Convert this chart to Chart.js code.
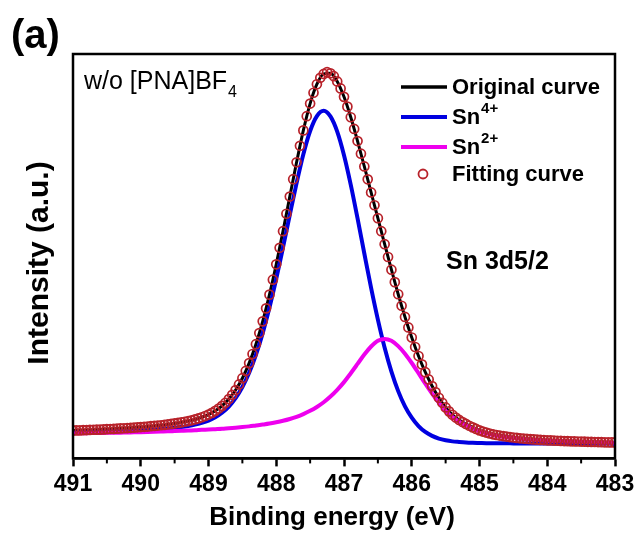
<!DOCTYPE html>
<html>
<head>
<meta charset="utf-8">
<script src="https://cdn.jsdelivr.net/npm/chart.js@4.4.1/dist/chart.umd.min.js"></script>
<style>
html,body{margin:0;padding:0;background:#fff;}
canvas{display:block;}
</style>
</head>
<body>
<canvas id="c" width="641" height="536"></canvas>
<script>
// Binding energy grid for the fitting-curve circles (eV)
const energyFine = [
491.00,490.95,490.90,490.85,490.80,490.75,490.70,490.65,490.60,490.55,
490.50,490.45,490.40,490.35,490.30,490.25,490.20,490.15,490.10,490.05,
490.00,489.95,489.90,489.85,489.80,489.75,489.70,489.65,489.60,489.55,
489.50,489.45,489.40,489.35,489.30,489.25,489.20,489.15,489.10,489.05,
489.00,488.95,488.90,488.85,488.80,488.75,488.70,488.65,488.60,488.55,
488.50,488.45,488.40,488.35,488.30,488.25,488.20,488.15,488.10,488.05,
488.00,487.95,487.90,487.85,487.80,487.75,487.70,487.65,487.60,487.55,
487.50,487.45,487.40,487.35,487.30,487.25,487.20,487.15,487.10,487.05,
487.00,486.95,486.90,486.85,486.80,486.75,486.70,486.65,486.60,486.55,
486.50,486.45,486.40,486.35,486.30,486.25,486.20,486.15,486.10,486.05,
486.00,485.95,485.90,485.85,485.80,485.75,485.70,485.65,485.60,485.55,
485.50,485.45,485.40,485.35,485.30,485.25,485.20,485.15,485.10,485.05,
485.00,484.95,484.90,484.85,484.80,484.75,484.70,484.65,484.60,484.55,
484.50,484.45,484.40,484.35,484.30,484.25,484.20,484.15,484.10,484.05,
484.00,483.95,483.90,483.85,483.80,483.75,483.70,483.65,483.60,483.55,
483.50,483.45,483.40,483.35,483.30,483.25,483.20,483.15,483.10,483.05,
483.00];

// Fitting curve intensity (a.u.)
const fitCurve = [
27.8,27.9,28.0,28.15,28.3,28.45,28.6,28.7,28.8,29.0,
29.2,29.35,29.5,29.7,29.9,30.1,30.3,30.55,30.8,31.05,
31.3,31.55,31.8,32.15,32.5,32.8,33.1,33.5,33.9,34.4,
34.9,35.4,36.0,36.6,37.3,38.05,38.9,39.9,41.1,42.35,
43.8,45.5,47.5,49.8,52.5,55.6,59.3,63.5,68.3,73.9,
80.1,87.4,95.2,104.3,114.1,125.2,136.9,149.9,163.6,178.5,
193.9,210.4,227.0,244.4,261.6,278.9,295.8,312.3,327.7,341.9,
354.5,365.3,373.8,380.2,384.1,385.8,384.7,381.8,376.6,369.6,
361.2,351.4,340.8,329.1,317.0,304.4,291.7,278.8,265.7,252.9,
240.0,227.0,214.0,201.2,188.5,176.1,164.0,152.5,141.3,130.8,
120.8,111.3,102.3,93.9,86.1,78.9,72.3,66.2,60.6,55.6,
50.9,47.0,43.6,40.8,38.4,36.3,34.4,32.6,31.0,29.4,
28.0,26.8,25.8,24.9,24.1,23.4,22.8,22.3,21.8,21.35,
20.9,20.5,20.1,19.8,19.5,19.25,19.0,18.75,18.5,18.3,
18.1,17.95,17.8,17.65,17.5,17.35,17.2,17.1,17.0,16.9,
16.8,16.7,16.6,16.5,16.4,16.3,16.2,16.1,16.0,15.95,
15.9];

// Binding energy grid for the line curves (eV)
const energy = [
491.0,490.9,490.8,490.7,490.6,490.5,490.4,490.3,490.2,490.1,
490.0,489.9,489.8,489.7,489.6,489.5,489.4,489.3,489.2,489.1,
489.0,488.9,488.8,488.7,488.6,488.5,488.4,488.3,488.2,488.1,
488.0,487.9,487.8,487.7,487.6,487.5,487.4,487.3,487.2,487.1,
487.0,486.9,486.8,486.7,486.6,486.5,486.4,486.3,486.2,486.1,
486.0,485.9,485.8,485.7,485.6,485.5,485.4,485.3,485.2,485.1,
485.0,484.9,484.8,484.7,484.6,484.5,484.4,484.3,484.2,484.1,
484.0,483.9,483.8,483.7,483.6,483.5,483.4,483.3,483.2,483.1,
483.0];

// Original (measured) curve
const originalCurve = [
27.8,28.0,28.3,28.6,28.8,29.2,29.5,29.9,30.3,30.8,
31.3,31.8,32.5,33.1,33.9,34.9,36.0,37.3,38.9,41.1,
43.8,47.5,52.5,59.3,68.3,80.1,95.2,114.1,136.9,163.6,
193.9,227.0,261.6,295.8,327.7,354.5,373.8,384.1,384.7,376.6,
361.2,340.8,317.0,291.7,265.7,240.0,214.0,188.5,164.0,141.3,
120.8,102.3,86.1,72.3,60.6,50.9,43.6,38.4,34.4,31.0,
28.0,25.8,24.1,22.8,21.8,20.9,20.1,19.5,19.0,18.5,
18.1,17.8,17.5,17.2,17.0,16.8,16.6,16.4,16.2,16.0,
15.9];

// Sn4+ component
const sn4Curve = [
25.8,25.9,26.1,26.3,26.4,26.7,26.9,27.2,27.4,27.8,
28.1,28.4,28.9,29.3,29.9,30.6,31.4,32.4,33.7,35.5,
37.8,41.1,45.6,51.8,60.2,71.3,85.5,103.4,125.2,150.7,
179.4,210.8,243.3,275.0,303.9,327.1,342.0,347.2,341.6,326.4,
302.8,273.2,239.7,204.7,170.3,138.6,110.5,86.7,67.2,52.0,
40.7,32.3,26.4,22.5,19.8,18.1,17.0,16.4,15.9,15.6,
15.4,15.2,15.2,15.1,15.1,15.0,15.0,15.0,14.9,14.9,
14.9,14.9,14.9,14.8,14.8,14.8,14.8,14.8,14.8,14.8,
14.7];

// Sn2+ component
const sn2Curve = [
25.0,25.1,25.2,25.3,25.4,25.5,25.6,25.7,25.9,26.0,
26.2,26.4,26.6,26.8,27.0,27.3,27.6,27.9,28.1,28.5,
28.8,29.2,29.6,30.2,30.7,31.3,32.0,32.9,33.8,34.8,
36.1,37.6,39.4,41.6,44.3,47.5,51.4,56.1,61.8,68.5,
76.2,85.1,94.4,103.8,111.8,117.6,119.4,117.5,112.2,104.6,
95.3,85.1,74.6,64.7,55.6,47.6,41.3,36.7,33.1,30.0,
27.1,25.1,23.4,22.2,21.2,20.4,19.6,19.0,18.6,18.1,
17.7,17.4,17.2,16.9,16.7,16.5,16.3,16.1,15.9,15.8,
15.7];

// Axis tick values
const majorTicks = [491,490,489,488,487,486,485,484,483];
const minorTicks = [490.5,489.5,488.5,487.5,486.5,485.5,484.5,483.5];

const seriesNames = ['Original curve','Sn4+','Sn2+','Fitting curve'];
const xTitle = 'Binding energy (eV)';
const yTitle = 'Intensity (a.u.)';

const FONT = '"Liberation Sans", Arial, Helvetica, sans-serif';
Chart.defaults.font.family = FONT;
Chart.defaults.color = '#000';

const COLORS = {orig:'#000000', sn4:'#0000e0', sn2:'#ee00ee', fit:'#b8222a'};

const pts = (xs, ys) => xs.map((x, i) => ({x: x, y: ys[i]}));

const decorPlugin = {
  id: 'decor',
  afterDraw(chart) {
    const ctx = chart.ctx;
    const a = chart.chartArea;
    const xs = chart.scales.x;
    ctx.save();
    // frame
    ctx.strokeStyle = '#000';
    ctx.lineWidth = 2.5;
    ctx.strokeRect(a.left, a.top, a.right - a.left, a.bottom - a.top);
    // minor ticks
    ctx.lineWidth = 2;
    minorTicks.forEach(v => {
      const px = xs.getPixelForValue(v);
      ctx.beginPath();
      ctx.moveTo(px, a.bottom);
      ctx.lineTo(px, a.bottom + 5);
      ctx.stroke();
    });
    ctx.fillStyle = '#000';
    // axis titles
    ctx.font = 'bold 26px ' + FONT;
    ctx.textAlign = 'center';
    ctx.textBaseline = 'middle';
    ctx.fillText(xTitle, 332, 518);
    ctx.save();
    ctx.translate(40, 263);
    ctx.rotate(-Math.PI / 2);
    ctx.font = 'bold 30px ' + FONT;
    ctx.fillText(yTitle, 0, 0);
    ctx.restore();
    // panel label
    ctx.textBaseline = 'alphabetic';
    ctx.textAlign = 'left';
    ctx.font = 'bold 40px ' + FONT;
    ctx.fillText('(a)', 11, 48);
    // sample label
    ctx.font = '25px ' + FONT;
    const t1 = 'w/o [PNA]BF';
    ctx.fillText(t1, 84, 89);
    const w1 = ctx.measureText(t1).width;
    ctx.font = '16px ' + FONT;
    ctx.fillText('4', 84 + w1 + 1, 97);
    // peak label
    ctx.font = 'bold 25px ' + FONT;
    ctx.fillText('Sn 3d5/2', 446, 269);
    // legend
    const lx0 = 401, lx1 = 447, tx = 452;
    const rows = [
      {y: 87, color: COLORS.orig, lw: 3.5, main: seriesNames[0], sup: ''},
      {y: 117, color: COLORS.sn4, lw: 4, main: 'Sn', sup: '4+'},
      {y: 147, color: COLORS.sn2, lw: 4, main: 'Sn', sup: '2+'},
    ];
    rows.forEach(r => {
      ctx.strokeStyle = r.color;
      ctx.lineWidth = r.lw;
      ctx.beginPath();
      ctx.moveTo(lx0, r.y);
      ctx.lineTo(lx1, r.y);
      ctx.stroke();
      ctx.fillStyle = '#000';
      ctx.textBaseline = 'middle';
      ctx.font = 'bold 22px ' + FONT;
      ctx.fillText(r.main, tx, r.y + 1);
      if (r.sup) {
        const w = ctx.measureText(r.main).width;
        ctx.font = 'bold 15px ' + FONT;
        ctx.fillText(r.sup, tx + w + 1, r.y - 8);
      }
    });
    // fitting curve legend marker
    ctx.strokeStyle = COLORS.fit;
    ctx.lineWidth = 1.8;
    ctx.beginPath();
    ctx.arc(423, 174, 4.5, 0, Math.PI * 2);
    ctx.stroke();
    ctx.fillStyle = '#000';
    ctx.font = 'bold 22px ' + FONT;
    ctx.textBaseline = 'middle';
    ctx.fillText(seriesNames[3], tx, 175);
    ctx.restore();
  }
};

new Chart(document.getElementById('c'), {
  type: 'scatter',
  data: {
    datasets: [
      {
        label: seriesNames[3],
        data: pts(energyFine, fitCurve),
        showLine: false,
        pointStyle: 'circle',
        pointRadius: 4.5,
        pointBorderWidth: 1.7,
        pointBorderColor: COLORS.fit,
        pointBackgroundColor: 'rgba(255,255,255,0)',
        order: 0
      },
      {
        label: seriesNames[2],
        data: pts(energy, sn2Curve),
        showLine: true,
        borderColor: COLORS.sn2,
        borderWidth: 4,
        pointRadius: 0,
        cubicInterpolationMode: 'monotone',
        order: 1
      },
      {
        label: seriesNames[1],
        data: pts(energy, sn4Curve),
        showLine: true,
        borderColor: COLORS.sn4,
        borderWidth: 4,
        pointRadius: 0,
        cubicInterpolationMode: 'monotone',
        order: 2
      },
      {
        label: seriesNames[0],
        data: pts(energy, originalCurve),
        showLine: true,
        borderColor: COLORS.orig,
        borderWidth: 3,
        pointRadius: 0,
        cubicInterpolationMode: 'monotone',
        order: 3
      }
    ]
  },
  options: {
    responsive: false,
    animation: false,
    devicePixelRatio: 1,
    layout: {padding: {top: 54, right: 26, bottom: 34, left: 73}},
    plugins: {legend: {display: false}, tooltip: {enabled: false}},
    scales: {
      x: {
        type: 'linear',
        reverse: true,
        min: 483,
        max: 491,
        afterBuildTicks: (s) => { s.ticks = majorTicks.map(v => ({value: v})); },
        ticks: {
          color: '#000',
          font: {size: 23, weight: 'bold'},
          padding: 4,
          maxRotation: 0,
          autoSkip: false,
          callback: (v) => String(v)
        },
        grid: {display: true, drawOnChartArea: false, drawTicks: true, tickLength: 8, tickWidth: 2.5, tickColor: '#000'},
        border: {display: true, color: '#000', width: 2.5},
        title: {display: false}
      },
      y: {
        display: false,
        min: 0,
        max: 404
      }
    }
  },
  plugins: [decorPlugin]
});
</script>
</body>
</html>
